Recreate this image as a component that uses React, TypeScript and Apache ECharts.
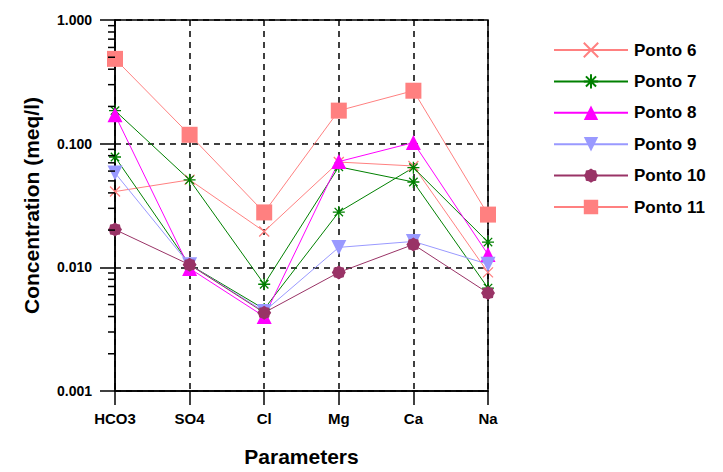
import React, { useEffect, useRef } from "react";
import * as echarts from "echarts";

const categories = ["HCO3", "SO4", "Cl", "Mg", "Ca", "Na"];
const ponto6 = [0.041, 0.051, 0.0195, 0.071, 0.066, 0.0091];
const ponto7a = [0.185, 0.051, 0.0073, 0.065, 0.049, 0.0068];
const ponto7b = [0.078, 0.0105, 0.0046, 0.028, 0.064, 0.016];
const ponto8 = [0.171, 0.0098, 0.004, 0.0716, 0.102, 0.0127];
const ponto9 = [0.058, 0.0105, 0.0044, 0.0145, 0.0162, 0.0106];
const ponto10 = [0.0202, 0.0105, 0.0043, 0.0091, 0.0153, 0.0062];
const ponto11 = [0.485, 0.118, 0.0278, 0.185, 0.268, 0.0267];
const legendNames = ["Ponto 6", "Ponto 7", "Ponto 8", "Ponto 9", "Ponto 10", "Ponto 11"];
const minorTickValues = [
  0.002, 0.003, 0.004, 0.005, 0.006, 0.007, 0.008, 0.009,
  0.02, 0.03, 0.04, 0.05, 0.06, 0.07, 0.08, 0.09,
  0.2, 0.3, 0.4, 0.5, 0.6, 0.7, 0.8, 0.9,
];

const crossPath = "path://M0,0L10,10M10,0L0,10";
const asteriskPath = "path://M5,0L5,10M0,5L10,5M1.5,1.5L8.5,8.5M8.5,1.5L1.5,8.5";
const burstPath =
  "path://M10,0L13.25,2.15L17.07,2.93L17.85,6.75L20,10L17.85,13.25L17.07,17.07L13.25,17.85L10,20L6.75,17.85L2.93,17.07L2.15,13.25L0,10L2.15,6.75L2.93,2.93L6.75,2.15Z";

export default function App() {
  const ref = useRef<HTMLDivElement>(null);
  useEffect(() => {
    if (!ref.current) return;
    document.body.style.margin = "0";
    const chart = echarts.init(ref.current, undefined, { renderer: "svg" });
    const font = "Liberation Sans";
    const mk = (
      name: string,
      data: number[],
      color: string,
      symbol: string,
      symbolSize: number,
      stroked = false
    ) => ({
      name,
      type: "line",
      data,
      symbol,
      symbolSize,
      lineStyle: { color, width: 1 },
      itemStyle: stroked
        ? { color, borderColor: color, borderWidth: 1.3 }
        : { color },
      emphasis: { disabled: true },
    });
    chart.setOption({
      animation: false,
      grid: {
        left: 115,
        right: 235,
        top: 20,
        bottom: 80,
        show: true,
        borderColor: "#000",
        borderWidth: 1.5,
        backgroundColor: "transparent",
      },
      legend: {
        data: legendNames,
        orient: "vertical",
        left: 548,
        top: 36,
        itemWidth: 74,
        itemHeight: 18,
        itemGap: 13.4,
        textStyle: {
          fontFamily: font,
          fontWeight: "bold",
          fontSize: 17,
          lineHeight: 18,
          color: "#000",
          padding: [0, 0, 0, 1],
        },
      },
      xAxis: {
        type: "category",
        data: categories,
        boundaryGap: false,
        name: "Parameters",
        nameLocation: "middle",
        nameGap: 55,
        nameTextStyle: { fontFamily: font, fontWeight: "bold", fontSize: 21, color: "#000" },
        axisLine: { lineStyle: { color: "#000", width: 1.5 } },
        axisTick: { show: true, length: 14, lineStyle: { color: "#000", width: 1.5 } },
        axisLabel: {
          margin: 20,
          fontFamily: font,
          fontWeight: "bold",
          fontSize: 15,
          color: "#000",
        },
        splitLine: { show: true, lineStyle: { color: "#000", width: 1.5, type: [6, 5] } },
      },
      yAxis: {
        type: "log",
        logBase: 10,
        min: 0.001,
        max: 1,
        name: "Concentration (meq/l)",
        nameLocation: "middle",
        nameGap: 73,
        nameTextStyle: { fontFamily: font, fontWeight: "bold", fontSize: 21, color: "#000" },
        axisLine: { show: true, lineStyle: { color: "#000", width: 1.5 } },
        axisTick: { show: true, length: 15, lineStyle: { color: "#000", width: 1.5 } },
        axisLabel: {
          margin: 23,
          fontFamily: font,
          fontWeight: "bold",
          fontSize: 14,
          color: "#000",
          formatter: (v: number) => v.toFixed(3),
        },
        splitLine: { show: true, lineStyle: { color: "#000", width: 1.5, type: [6, 5] } },
      },
      series: [
        mk("Ponto 6", ponto6, "#FF8080", crossPath, 10, true),
        mk("Ponto 7", ponto7a, "#008000", asteriskPath, 12, true),
        mk("Ponto 7", ponto7b, "#008000", asteriskPath, 12, true),
        mk("Ponto 8", ponto8, "#FF00FF", "triangle", 15),
        mk("Ponto 9", ponto9, "#9999FF", "path://M0,0L10,0L5,10Z", 15),
        mk("Ponto 10", ponto10, "#993366", burstPath, 14),
        mk("Ponto 11", ponto11, "#FF8080", "rect", 16),
      ],
    });
    const x0 = chart.convertToPixel({ xAxisIndex: 0 }, categories[0]) as number;
    const ticks = minorTickValues.map((v) => {
      const y = chart.convertToPixel({ yAxisIndex: 0 }, v) as number;
      return {
        type: "rect",
        silent: true,
        z: 10,
        shape: { x: x0 - 7, y: y - 0.75, width: 7, height: 1.5 },
        style: { fill: "#000" },
      };
    });
    chart.setOption({ graphic: ticks });
    return () => chart.dispose();
  }, []);
  return <div ref={ref} style={{ width: 723, height: 472 }} />;
}
